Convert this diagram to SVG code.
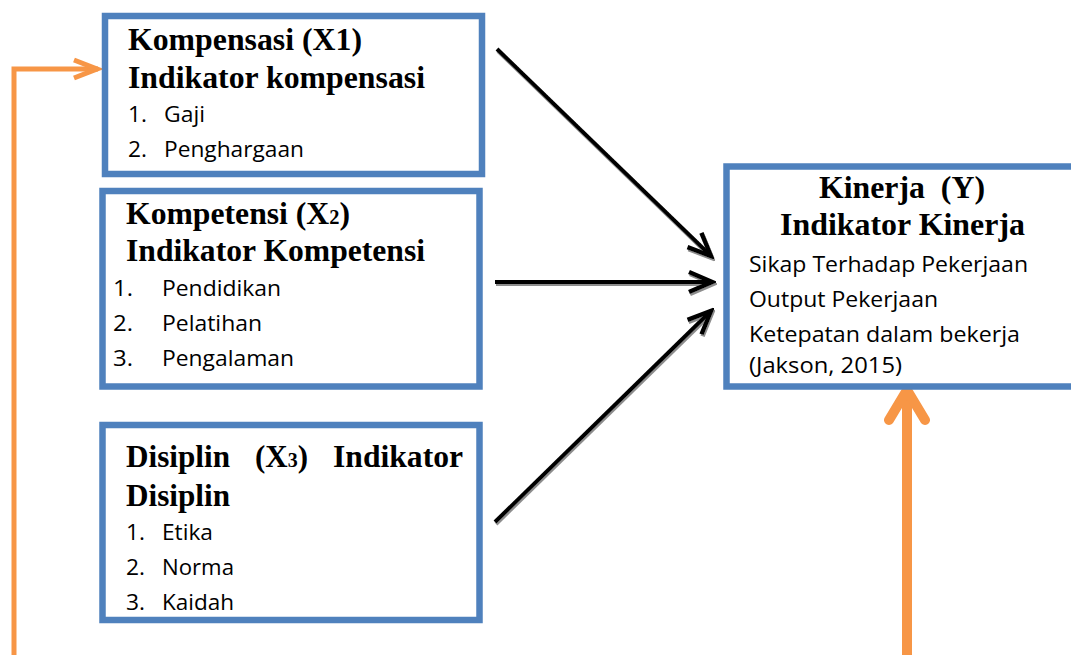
<svg xmlns="http://www.w3.org/2000/svg" width="1071" height="655" viewBox="0 0 1071 655">
<style>
.box{fill:#fff;stroke:#4F81BD;stroke-width:6.5}
.ttl{font-family:"Liberation Serif","Times New Roman",serif;font-weight:bold;font-size:31px;fill:#000}
.itm{font-family:"Open Sans","Liberation Sans",sans-serif;font-size:21px;fill:#000}
.blk{stroke:#000;stroke-width:4;fill:none}
.org{stroke:#F79646;stroke-width:5;fill:none}
</style>
<defs>
<filter id="sh" x="-10%" y="-50%" width="130%" height="200%">
<feDropShadow dx="1" dy="2" stdDeviation="0.4" flood-color="#808080" flood-opacity="0.9"/>
</filter>
<marker id="ab" markerUnits="userSpaceOnUse" viewBox="-30 -15 34 30" refX="0" refY="0" markerWidth="34" markerHeight="30" orient="auto">
<path d="M-23,-10 L0,0 L-23,10" fill="none" stroke="#000" stroke-width="4.5"/>
</marker>
<marker id="ao" markerUnits="userSpaceOnUse" viewBox="-30 -15 34 30" refX="0" refY="0" markerWidth="34" markerHeight="30" orient="auto">
<path d="M-24,-9 L-1,0 L-24,9" fill="none" stroke="#F79646" stroke-width="5"/>
</marker>
<marker id="au" markerUnits="userSpaceOnUse" viewBox="-45 -25 50 50" refX="0" refY="0" markerWidth="50" markerHeight="50" orient="auto">
<path d="M-31,-18 L-1,0 L-31,18" fill="none" stroke="#F79646" stroke-width="10" stroke-linecap="round" stroke-linejoin="round"/>
</marker>
</defs>

<g id="connectors">
<g filter="url(#sh)">
<line class="blk" x1="497" y1="49" x2="711" y2="256" marker-end="url(#ab)"/>
<line class="blk" x1="495" y1="282" x2="712" y2="282" marker-end="url(#ab)"/>
<line class="blk" x1="495" y1="522" x2="711" y2="311" marker-end="url(#ab)"/>
</g>
<polyline class="org" points="14,655 14,69 98,69" marker-end="url(#ao)"/>
<line class="org" x1="14" y1="266" x2="98" y2="266" marker-end="url(#ao)" filter="url(#sh)"/>
<line class="org" x1="14" y1="538" x2="98" y2="538" marker-end="url(#ao)" filter="url(#sh)"/>
<line x1="907" y1="655" x2="907" y2="389" stroke="#F79646" stroke-width="10" marker-end="url(#au)"/>
</g>

<g id="node-kompensasi">
<rect class="box" x="105" y="16" width="377" height="158"/>
<text class="ttl" x="128" y="50" textLength="234" lengthAdjust="spacingAndGlyphs">Kompensasi (X1)</text>
<text class="ttl" x="128" y="88" textLength="297" lengthAdjust="spacingAndGlyphs">Indikator kompensasi</text>
<text class="itm" x="128" y="122" textLength="19" lengthAdjust="spacingAndGlyphs">1.</text><text class="itm" x="164" y="122" textLength="41" lengthAdjust="spacingAndGlyphs">Gaji</text>
<text class="itm" x="128" y="157" textLength="19" lengthAdjust="spacingAndGlyphs">2.</text><text class="itm" x="164" y="157" textLength="140" lengthAdjust="spacingAndGlyphs">Penghargaan</text>
</g>

<g id="node-kompetensi">
<rect class="box" x="102.5" y="191" width="377" height="195.5"/>
<text class="ttl" x="126" y="224" textLength="224" lengthAdjust="spacingAndGlyphs">Kompetensi (X<tspan font-size="20px">2</tspan>)</text>
<text class="ttl" x="126" y="261" textLength="299" lengthAdjust="spacingAndGlyphs">Indikator Kompetensi</text>
<text class="itm" x="113" y="296" textLength="20" lengthAdjust="spacingAndGlyphs">1.</text><text class="itm" x="162" y="296" textLength="119" lengthAdjust="spacingAndGlyphs">Pendidikan</text>
<text class="itm" x="113" y="331" textLength="20" lengthAdjust="spacingAndGlyphs">2.</text><text class="itm" x="162" y="331" textLength="100" lengthAdjust="spacingAndGlyphs">Pelatihan</text>
<text class="itm" x="113" y="366" textLength="20" lengthAdjust="spacingAndGlyphs">3.</text><text class="itm" x="162" y="366" textLength="132" lengthAdjust="spacingAndGlyphs">Pengalaman</text>
</g>

<g id="node-disiplin">
<rect class="box" x="102.5" y="425" width="377" height="195"/>
<text class="ttl" x="126" y="467" textLength="104" lengthAdjust="spacingAndGlyphs">Disiplin</text>
<text class="ttl" x="255" y="467" textLength="53" lengthAdjust="spacingAndGlyphs">(X<tspan font-size="20px">3</tspan>)</text>
<text class="ttl" x="333" y="467" textLength="130" lengthAdjust="spacingAndGlyphs">Indikator</text>
<text class="ttl" x="126" y="506" textLength="104" lengthAdjust="spacingAndGlyphs">Disiplin</text>
<text class="itm" x="126" y="540" textLength="19" lengthAdjust="spacingAndGlyphs">1.</text><text class="itm" x="162" y="540" textLength="51" lengthAdjust="spacingAndGlyphs">Etika</text>
<text class="itm" x="126" y="575" textLength="19" lengthAdjust="spacingAndGlyphs">2.</text><text class="itm" x="162" y="575" textLength="72" lengthAdjust="spacingAndGlyphs">Norma</text>
<text class="itm" x="126" y="610" textLength="19" lengthAdjust="spacingAndGlyphs">3.</text><text class="itm" x="162" y="610" textLength="72" lengthAdjust="spacingAndGlyphs">Kaidah</text>
</g>

<g id="node-kinerja">
<rect class="box" x="726.5" y="166.5" width="360" height="220"/>
<text class="ttl" x="819" y="198" textLength="166" lengthAdjust="spacingAndGlyphs" xml:space="preserve">Kinerja  (Y)</text>
<text class="ttl" x="780" y="235" textLength="245" lengthAdjust="spacingAndGlyphs">Indikator Kinerja</text>
<text class="itm" x="749" y="272" textLength="279" lengthAdjust="spacingAndGlyphs">Sikap Terhadap Pekerjaan</text>
<text class="itm" x="749" y="307" textLength="189" lengthAdjust="spacingAndGlyphs">Output Pekerjaan</text>
<text class="itm" x="749" y="342" textLength="271" lengthAdjust="spacingAndGlyphs">Ketepatan dalam bekerja</text>
<text class="itm" x="749" y="373" textLength="153" lengthAdjust="spacingAndGlyphs">(Jakson, 2015)</text>
</g>
</svg>
